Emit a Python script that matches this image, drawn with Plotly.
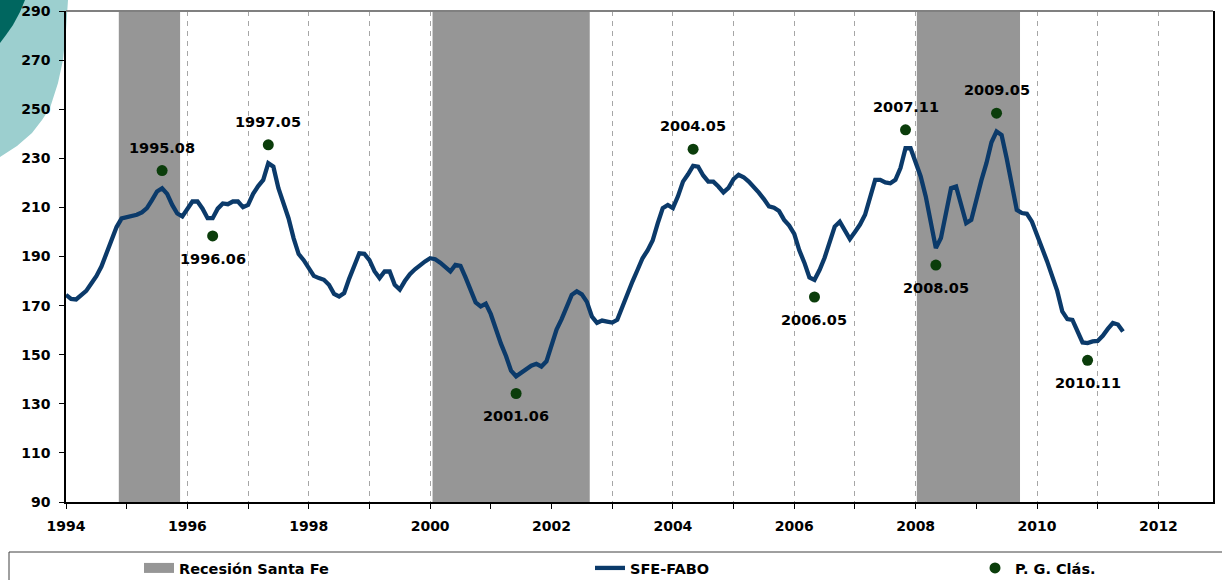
import plotly.graph_objects as go

# ---------------- data ----------------
sfe_fabo = [
    # 1994
    174.4, 172.7, 172.5, 174.5, 176.0, 179.0, 182.0, 185.9, 191.0, 197.0, 202.0, 205.5,
    # 1995
    206.0, 206.3, 207.0, 208.0, 209.7, 213.0, 216.5, 217.8, 215.5, 211.0, 207.5, 206.3,
    # 1996
    209.0, 212.4, 212.4, 209.5, 205.6, 205.6, 209.5, 211.6, 211.3, 212.4, 212.4, 210.1,
    # 1997
    211.0, 215.5, 218.7, 221.2, 228.0, 226.6, 217.8, 211.5, 205.6, 197.5, 191.0, 188.5,
    # 1998
    185.5, 182.1, 181.2, 180.5, 178.5, 174.8, 173.7, 175.1, 181.0, 186.5, 191.3, 191.1,
    # 1999
    188.5, 184.0, 181.2, 183.9, 183.9, 178.5, 176.5, 180.0, 182.8, 184.8, 186.6, 188.0,
    # 2000
    189.3, 188.9, 187.5, 185.5, 183.9, 186.6, 186.2, 181.5, 176.5, 171.3, 169.7, 170.8,
    # 2001
    166.5, 160.3, 154.5, 149.5, 143.5, 141.2, 142.8, 144.3, 145.5, 146.3, 145.2, 147.3,
    # 2002
    154.0, 160.2, 164.5, 169.5, 174.4, 175.8, 174.6, 171.5, 165.5, 163.0, 163.9, 163.5,
    # 2003
    163.1, 164.2, 169.5, 175.5, 179.8, 184.5, 189.3, 192.5, 196.5, 203.5, 209.7, 211.0,
    # 2004
    209.7, 214.5, 220.5, 223.5, 226.9, 226.6, 223.0, 220.5, 220.5, 218.5, 216.1, 218.0,
    # 2005
    221.5, 223.3, 222.3, 220.5, 218.5, 216.0, 213.4, 210.4, 209.9, 208.5, 204.9, 202.6,
    # 2006
    199.2, 192.5, 187.5, 181.5, 180.5, 184.5, 189.5, 195.5, 202.2, 204.2, 200.5, 197.1,
    # 2007
    200.0, 203.0, 207.0, 214.0, 221.2, 221.2, 220.2, 219.8, 221.2, 226.0, 234.1, 234.1,
    # 2008
    228.5, 222.6, 214.5, 203.5, 193.4, 197.5, 207.5, 217.8, 218.5, 210.5, 203.6, 204.9,
    # 2009
    213.5, 221.0, 228.0, 236.5, 240.9, 239.5, 230.0, 218.5, 209.0, 207.7, 207.4, 204.2,
    # 2010
    199.0, 193.5, 188.0, 182.0, 176.0, 167.6, 164.5, 164.2, 159.5, 155.0, 154.7, 155.4,
    # 2011
    155.6, 157.7, 160.5, 162.9, 162.3, 159.4,
]

# Peaks / troughs (P. G. Clás.)
pg_labels = ["1995.08", "1996.06", "1997.05", "2001.06", "2004.05",
             "2006.05", "2007.11", "2008.05", "2009.05", "2010.11"]
pg_values = [225.0, 198.4, 235.5, 134.2, 233.7, 173.5, 241.6, 186.5, 248.4, 147.7]
pg_above = [True, False, True, False, True, False, True, False, True, False]

# Recession periods (decimal years)
rec_start = [1994.87, 2000.04, 2008.02]
rec_end = [1995.88, 2002.63, 2009.72]

x_tick_years = list(range(1994, 2013))
x_tick_text = [str(y) if y % 2 == 0 else "" for y in x_tick_years]

# ---------------- derived ----------------
x_line = [1994 + i / 12 for i in range(len(sfe_fabo))]
pg_x = [int(s.split(".")[0]) + (int(s.split(".")[1]) - 1) / 12 for s in pg_labels]

YMIN, YMAX = 90, 290
rx, ry = [], []
for a, b in zip(rec_start, rec_end):
    rx += [a, a, b, b, a, None]
    ry += [YMIN, YMAX, YMAX, YMIN, YMIN, None]

FONT = "DejaVu Sans"
LINE_COLOR = "#0B3A6A"
DOT_COLOR = "#0B3D0B"
REC_COLOR = "#969696"

fig = go.Figure()

# recession bands (plot)
fig.add_trace(go.Scatter(x=rx, y=ry, mode="lines", fill="toself",
                         fillcolor=REC_COLOR, line=dict(width=0, color=REC_COLOR),
                         hoverinfo="skip", showlegend=False))
# recession legend swatch
fig.add_trace(go.Scatter(x=[None], y=[None], mode="lines", name="Recesión Santa Fe",
                         line=dict(color=REC_COLOR, width=14), legend="legend"))

fig.add_trace(go.Scatter(x=x_line, y=sfe_fabo, mode="lines", name="SFE-FABO",
                         line=dict(color=LINE_COLOR, width=4.3), legend="legend2"))

fig.add_trace(go.Scatter(x=pg_x, y=pg_values, mode="markers", name="P. G. Clás.",
                         marker=dict(color=DOT_COLOR, size=11), legend="legend3"))

for xv, yv, lab, up in zip(pg_x, pg_values, pg_labels, pg_above):
    fig.add_annotation(x=xv, y=yv, text=lab, showarrow=False,
                       yshift=23 if up else -23,
                       font=dict(family=FONT, size=14.5, color="black", weight="bold"))

# ---------------- layout geometry helpers ----------------
L, R, T, B = 66, 1213, 11, 502
def px(xp):
    return (xp - L) / (R - L)
def py(yp):
    return (B - yp) / (B - T)

shapes = []
# light teal decoration
light_pts = [(-10, -10), (70, -10), (68, 0), (66, 30), (63, 60), (58, 83), (50, 108),
             (42, 120), (32, 133), (17, 146), (0, 157), (-10, 163)]
path = "M " + " L ".join(f"{px(a):.5f},{py(b):.5f}" for a, b in light_pts) + " Z"
shapes.append(dict(type="path", path=path, xref="paper", yref="paper",
                   fillcolor="#9CCFCF", line=dict(width=0), layer="below"))
dark_pts = [(-10, -10), (27, -10), (25, 0), (20, 12), (13, 25), (6, 35), (0, 43), (-10, 52)]
path = "M " + " L ".join(f"{px(a):.5f},{py(b):.5f}" for a, b in dark_pts) + " Z"
shapes.append(dict(type="path", path=path, xref="paper", yref="paper",
                   fillcolor="#00665F", line=dict(width=0), layer="below"))
# top frame line (grey)
shapes.append(dict(type="line", xref="paper", yref="paper", x0=0, x1=1, y0=1, y1=1,
                   line=dict(color="#808080", width=2)))
# legend box
shapes.append(dict(type="rect", xref="paper", yref="paper",
                   x0=px(9), x1=px(1240), y0=py(600), y1=py(552),
                   line=dict(color="#404040", width=1), fillcolor="rgba(0,0,0,0)"))

legend_common = dict(orientation="h", xanchor="left", yanchor="middle",
                     y=py(568), bgcolor="rgba(0,0,0,0)", borderwidth=0,
                     font=dict(family=FONT, size=14.5, color="black", weight="bold"))

fig.update_layout(
    width=1222, height=580,
    margin=dict(l=L, r=1222 - R, t=T, b=580 - B, pad=0, autoexpand=False),
    paper_bgcolor="white", plot_bgcolor="rgba(0,0,0,0)",
    showlegend=True,
    legend=dict(x=px(139), **legend_common),
    legend2=dict(x=px(590), **legend_common),
    legend3=dict(x=px(975), **legend_common),
    shapes=shapes,
    xaxis=dict(range=[1994, 2012.9], tickmode="array", tickvals=x_tick_years,
               ticktext=x_tick_text, ticks="outside", ticklen=5, tickcolor="black",
               showline=True, linecolor="black", linewidth=1.5,
               showgrid=True, gridcolor="#A6A6A6", griddash="5px,5px", gridwidth=1,
               zeroline=False, ticklabelstandoff=5, automargin=False,
               tickfont=dict(family=FONT, size=14, color="black", weight="bold")),
    yaxis=dict(range=[YMIN, YMAX], tick0=90, dtick=20, ticks="outside", ticklen=5,
               tickcolor="black", showline=True, linecolor="black", linewidth=1.5,
               mirror=True, showgrid=False, zeroline=False, ticklabelstandoff=6,
               automargin=False,
               tickfont=dict(family=FONT, size=14, color="black", weight="bold")),
)

fig.write_html("out.html", config={"displayModeBar": False},
               post_script="document.body.style.margin='0px';document.body.style.overflow='hidden';")
